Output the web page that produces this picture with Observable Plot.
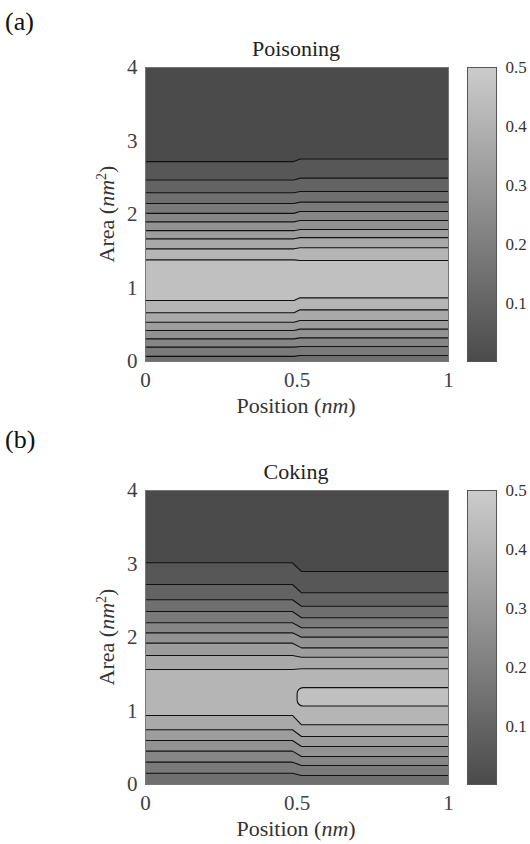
<!DOCTYPE html>
<html><head><meta charset="utf-8">
<script src="https://cdn.jsdelivr.net/npm/d3@7"></script>
<script src="https://cdn.jsdelivr.net/npm/@observablehq/plot@0.6"></script>
<style>
body{margin:0;background:#fff;font-family:"Liberation Serif","Times New Roman","DejaVu Serif",serif;}
#fig{position:relative;width:530px;height:844px;overflow:hidden;background:#fff}
.panel{position:absolute;left:0;width:530px;height:423px}
.abs{position:absolute;white-space:nowrap;line-height:1}
.tag{font-size:26px;color:#111}
.title{font-size:22px;color:#222;transform:translate(-50%,-50%)}
.xlab{font-size:22px;color:#333;transform:translate(-50%,-50%)}
.ylab{font-size:22px;color:#333;transform:translate(-50%,-50%) rotate(-90deg)}
sup{font-size:14px;vertical-align:0;position:relative;top:-8px}
</style></head><body><div id="fig"></div>
<script>
// ---- data ----
const levels = [0.05, 0.095, 0.14, 0.185, 0.23, 0.275, 0.32, 0.365, 0.41, 0.455]; // contour levels L1..L10
const colorMin = 0.002, colorMax = 0.5;
const xTicks = [0, 0.5, 1], xTickLabels = ["0", "0.5", "1"];
const yTicks = [0, 1, 2, 3, 4], yTickLabels = ["0", "1", "2", "3", "4"];
const cbTicks = [0.1, 0.2, 0.3, 0.4, 0.5], cbTickLabels = ["0.1", "0.2", "0.3", "0.4", "0.5"];
const panelTags = ["(a)", "(b)"];
const panelTitles = ["Poisoning", "Coking"];

// contour line heights (Area, nm^2) per level L1..L10; null = line absent
const poisonGrid = [0, 0.49, 0.51, 1];
const poisonUpperLeft  = [2.72, 2.47, 2.295, 2.15, 2.015, 1.9, 1.78, 1.669, 1.533, 1.383];
const poisonUpperRight = [2.755, 2.495, 2.313, 2.168, 2.04, 1.918, 1.796, 1.685, 1.547, 1.374];
const poisonLowerLeft  = [null, null, null, 0.07, 0.195, 0.308, 0.422, 0.535, 0.663, 0.83];
const poisonLowerRight = [null, null, null, 0.082, 0.204, 0.322, 0.44, 0.558, 0.703, 0.866];

const cokeGrid = [0, 0.485, 0.515, 1];
const cokeUpperLeft  = [3.016, 2.721, 2.513, 2.354, 2.2, 2.063, 1.923, 1.755, 1.565, null];
const cokeUpperRight = [2.898, 2.608, 2.426, 2.268, 2.132, 2.005, 1.859, 1.732, 1.574, 1.311];
const cokeLowerLeft  = [null, null, null, 0.154, 0.304, 0.454, 0.599, 0.744, 0.939, null];
const cokeLowerRight = [null, null, null, 0.122, 0.259, 0.381, 0.517, 0.653, 0.812, 1.061];
const cokeInsetStart = 0.502;

const panels = [
  {grid: poisonGrid, upperLeft: poisonUpperLeft, upperRight: poisonUpperRight, lowerLeft: poisonLowerLeft, lowerRight: poisonLowerRight, insetStart: null},
  {grid: cokeGrid, upperLeft: cokeUpperLeft, upperRight: cokeUpperRight, lowerLeft: cokeLowerLeft, lowerRight: cokeLowerRight, insetStart: cokeInsetStart}
];

const colorScale = {type: "linear", domain: [colorMin, colorMax], range: ["#4b4b4b", "#cccccc"]};
const fontStyle = {fontFamily: "'Liberation Serif', 'Times New Roman', 'DejaVu Serif', serif", fontSize: "21px", color: "#404040", background: "transparent", overflow: "visible"};
const lineColor = "#111";

function mainPlot(p) {
  const marks = [];
  marks.push(Plot.rect([{x1: 0, x2: 1, y1: 0, y2: 4, v: colorMin}], {x1: "x1", x2: "x2", y1: "y1", y2: "y2", fill: "v"}));
  const lineData = [];
  const [x0, xa, xb, x1] = p.grid;
  levels.forEach((lv, k) => {
    const uL = p.upperLeft[k], uR = p.upperRight[k];
    if (uR == null) return;
    const lL = p.lowerLeft[k] ?? 0, lR = p.lowerRight[k] ?? 0;
    if (uL != null) {
      const pts = [
        {x: x0, y1: lL, y2: uL, v: lv}, {x: xa, y1: lL, y2: uL, v: lv},
        {x: xb, y1: lR, y2: uR, v: lv}, {x: x1, y1: lR, y2: uR, v: lv}];
      marks.push(Plot.areaY(pts, {x: "x", y1: "y1", y2: "y2", fill: "v"}));
      lineData.push({key: "u" + k, x: x0, y: uL}, {key: "u" + k, x: xa, y: uL}, {key: "u" + k, x: xb, y: uR}, {key: "u" + k, x: x1, y: uR});
      if (p.lowerLeft[k] != null && p.lowerRight[k] != null) {
        lineData.push({key: "l" + k, x: x0, y: lL}, {key: "l" + k, x: xa, y: lL}, {key: "l" + k, x: xb, y: lR}, {key: "l" + k, x: x1, y: lR});
      }
    } else if (p.insetStart != null) {
      marks.push(Plot.rect([{x1: p.insetStart, x2: x1 + 0.03, y1: lR, y2: uR, v: lv}],
        {x1: "x1", x2: "x2", y1: "y1", y2: "y2", fill: "v", stroke: lineColor, strokeWidth: 1.1, rx: 6, clip: true}));
    }
  });
  marks.push(Plot.line(lineData, {x: "x", y: "y", z: "key", stroke: lineColor, strokeWidth: 1.1}));
  marks.push(Plot.frame({stroke: "#777", strokeWidth: 1}));
  return Plot.plot({
    width: 460, height: 420, marginLeft: 145, marginRight: 12, marginTop: 67, marginBottom: 59,
    style: fontStyle,
    x: {domain: [0, 1], ticks: xTicks, tickFormat: d => xTickLabels[xTicks.indexOf(d)], tickSize: 0, tickPadding: 11, label: null},
    y: {domain: [0, 4], ticks: yTicks, tickFormat: d => yTickLabels[yTicks.indexOf(d)], tickSize: 0, tickPadding: 8, label: null},
    color: colorScale,
    marks
  });
}

function colorbar() {
  return Plot.plot({
    width: 90, height: 420, marginLeft: 27, marginRight: 34, marginTop: 67, marginBottom: 59,
    style: {...fontStyle, fontSize: "17px", color: "#333"},
    x: {domain: [0, 1], axis: null},
    y: {domain: [colorMin, colorMax], ticks: cbTicks, tickFormat: d => cbTickLabels[cbTicks.indexOf(d)], axis: "right", tickSize: 0, tickPadding: 9, label: null},
    color: colorScale,
    marks: [
      Plot.raster({x1: 0, x2: 1, y1: colorMin, y2: colorMax, width: 2, height: 256, fill: (x, y) => y, imageRendering: "auto"}),
      Plot.frame({stroke: "#555", strokeWidth: 1})
    ]
  });
}

const fig = document.getElementById("fig");
panels.forEach((p, i) => {
  const div = document.createElement("div");
  div.className = "panel";
  div.style.top = (i * 423) + "px";
  const main = mainPlot(p);
  main.style.position = "absolute"; main.style.left = "0px"; main.style.top = "0px";
  div.appendChild(main);
  const cb = colorbar();
  cb.style.position = "absolute"; cb.style.left = "440px"; cb.style.top = "0px";
  div.appendChild(cb);
  const tag = document.createElement("div");
  tag.className = "abs tag"; tag.textContent = panelTags[i];
  tag.style.left = "5px"; tag.style.top = (i === 0 ? 9 : 4) + "px";
  div.appendChild(tag);
  const title = document.createElement("div");
  title.className = "abs title"; title.textContent = panelTitles[i];
  title.style.left = "296px"; title.style.top = "49px";
  div.appendChild(title);
  const xl = document.createElement("div");
  xl.className = "abs xlab"; xl.innerHTML = "Position (<i>nm</i>)";
  xl.style.left = "296px"; xl.style.top = "406px";
  div.appendChild(xl);
  const yl = document.createElement("div");
  yl.className = "abs ylab"; yl.innerHTML = "Area (<i>nm</i><sup>2</sup>)";
  yl.style.left = "107px"; yl.style.top = "214px";
  div.appendChild(yl);
  fig.appendChild(div);
});
</script></body></html>
